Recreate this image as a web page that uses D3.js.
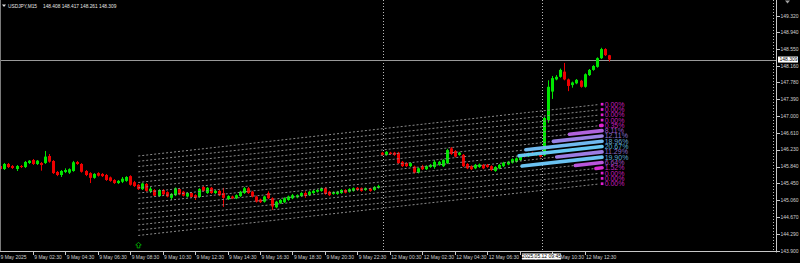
<!DOCTYPE html>
<html><head><meta charset="utf-8">
<script src="https://cdn.jsdelivr.net/npm/d3@7"></script>
<style>html,body{margin:0;padding:0;background:#000;overflow:hidden}svg{display:block}</style>
</head><body><svg id="c" width="800" height="263"></svg>
<script>
// ---------- DATA ----------
const symbol = "USDJPY,M15";
const lastOHLC = [148.408, 148.417, 148.261, 148.309];
const bidPrice = 148.309;
const priceTicks = [149.320, 148.940, 148.550, 148.160, 147.780, 147.390, 147.000, 146.610, 146.230, 145.840, 145.450, 145.060, 144.670, 144.290, 143.900];
const timeLabels = ["9 May 2025","9 May 02:30","9 May 04:30","9 May 06:30","9 May 08:30","9 May 10:30","9 May 12:30","9 May 14:30","9 May 16:30","9 May 18:30","9 May 20:30","9 May 22:30","12 May 00:30","12 May 02:30","12 May 04:30","12 May 06:30","12 May 08:30","12 May 10:30","12 May 12:30"];
const timeLabelIdx = [0,8,16,24,32,40,48,56,64,72,80,88,96,104,112,120,128,136,144];
// candles: [open, high, low, close], one per M15 bar (index = bar number)
const candles = [
[145.853,145.876,145.761,145.784],[145.784,145.923,145.761,145.900],[145.900,145.923,145.807,145.830],[145.853,145.876,145.784,145.807],[145.784,145.876,145.738,145.853],
[145.853,145.876,145.807,145.830],[145.830,145.969,145.807,145.946],[145.923,145.990,145.900,145.976],[145.992,146.015,145.877,145.900],[145.900,145.992,145.877,145.976],
[145.923,145.946,145.746,145.876],[145.923,146.200,145.900,146.070],[146.084,146.130,145.930,145.953],[145.969,145.990,145.670,145.690],[145.715,145.738,145.620,145.646],
[145.646,145.760,145.600,145.738],[145.715,145.800,145.690,145.761],[145.700,145.800,145.670,145.780],[145.738,145.970,145.720,145.940],[145.946,145.970,145.880,145.900],
[145.900,145.920,145.700,145.720],[145.738,145.760,145.620,145.646],[145.690,145.710,145.460,145.580],[145.580,145.690,145.560,145.670],[145.690,145.710,145.610,145.630],
[145.670,145.690,145.600,145.620],[145.646,145.670,145.510,145.531],[145.590,145.610,145.490,145.510],[145.530,145.550,145.440,145.460],[145.460,145.530,145.440,145.510],
[145.490,145.600,145.460,145.560],[145.510,145.620,145.490,145.600],[145.620,145.640,145.400,145.420],[145.480,145.510,145.370,145.390],[145.420,145.440,145.300,145.320],
[145.320,145.470,145.300,145.450],[145.440,145.460,145.260,145.280],[145.270,145.370,145.230,145.330],[145.300,145.320,145.150,145.170],[145.160,145.320,145.140,145.300],
[145.300,145.320,145.180,145.200],[145.250,145.270,145.130,145.150],[145.120,145.230,145.070,145.210],[145.180,145.360,145.160,145.340],[145.320,145.350,145.180,145.200],
[145.260,145.280,145.150,145.170],[145.150,145.250,145.130,145.230],[145.230,145.250,145.120,145.140],[145.180,145.200,145.070,145.120],[145.140,145.340,145.120,145.320],
[145.370,145.390,145.260,145.280],[145.230,145.370,145.210,145.350],[145.350,145.370,145.210,145.230],[145.230,145.300,145.210,145.280],[145.280,145.300,145.160,145.180],
[145.230,145.350,144.910,145.120],[145.090,145.180,145.070,145.160],[145.150,145.170,145.090,145.110],[145.110,145.200,145.090,145.180],[145.160,145.280,145.140,145.260],
[145.230,145.370,145.210,145.340],[145.340,145.370,145.210,145.230],[145.260,145.280,145.130,145.150],[145.150,145.170,145.010,145.030],[145.080,145.100,145.000,145.020],
[145.030,145.170,145.010,145.150],[145.230,145.270,145.090,145.110],[145.110,145.130,144.840,144.920],[144.900,145.050,144.880,145.030],[145.000,145.090,144.980,145.070],
[145.020,145.130,145.000,145.110],[145.070,145.170,145.050,145.150],[145.110,145.210,145.090,145.180],[145.130,145.200,145.110,145.180],[145.160,145.250,145.140,145.230],
[145.230,145.270,145.120,145.160],[145.180,145.280,145.160,145.260],[145.230,145.300,145.210,145.280],[145.260,145.320,145.240,145.300],[145.280,145.360,145.260,145.340],
[145.340,145.370,145.190,145.210],[145.260,145.280,145.160,145.180],[145.210,145.270,145.190,145.250],[145.210,145.280,145.190,145.260],[145.230,145.320,145.210,145.300],
[145.300,145.320,145.220,145.240],[145.260,145.340,145.240,145.320],[145.280,145.360,145.260,145.340],[145.350,145.370,145.280,145.300],[145.340,145.360,145.260,145.280],
[145.300,145.360,145.280,145.340],[145.330,145.350,145.260,145.280],[145.300,145.390,145.280,145.370],[145.350,145.420,145.330,145.390],
[146.160,146.180,146.090,146.110],[146.110,146.200,146.090,146.180],[146.160,146.180,146.110,146.130],[146.160,146.180,146.090,146.110],[146.160,146.180,145.900,145.920],
[145.950,145.970,145.830,145.850],[145.920,145.940,145.830,145.850],[145.850,145.940,145.830,145.920],[145.840,145.860,145.680,145.700],[145.700,145.820,145.680,145.800],
[145.850,145.880,145.760,145.780],[145.780,145.870,145.760,145.850],[145.830,145.900,145.810,145.880],[145.830,145.990,145.790,145.950],[145.880,145.970,145.860,145.950],
[145.850,146.010,145.830,145.990],[145.920,146.250,145.900,146.220],[146.260,146.290,146.110,146.130],[146.200,146.220,146.050,146.070],[146.110,146.180,146.090,146.160],
[146.110,146.130,145.830,145.850],[145.900,145.920,145.780,145.800],[145.850,145.870,145.760,145.780],[145.800,145.900,145.780,145.880],[145.830,145.910,145.810,145.890],
[145.880,145.900,145.780,145.800],[145.880,145.900,145.810,145.830],[145.850,145.870,145.740,145.760],[145.740,145.850,145.720,145.830],[145.800,145.900,145.780,145.880],
[145.850,145.950,145.830,145.930],[145.890,145.970,145.870,145.950],[145.930,146.030,145.910,146.010],[145.950,146.050,145.930,146.030],[145.990,146.090,145.970,146.070],
[146.130,146.150,146.050,146.070],[146.080,146.160,146.060,146.140],[146.160,146.180,146.090,146.110],[146.110,146.170,146.090,146.150],[146.150,146.180,146.050,146.070],
[146.100,146.990,146.080,146.960],[146.910,147.830,146.850,147.680],[147.570,147.930,147.400,147.880],[147.850,147.950,147.830,147.910],[147.910,148.100,147.890,148.070],
[148.030,148.230,147.830,147.850],[147.850,147.870,147.580,147.700],[147.720,147.800,147.660,147.780],[147.760,147.860,147.740,147.840],[147.820,147.840,147.660,147.680],
[147.680,147.990,147.660,147.970],[147.950,148.090,147.930,148.070],[148.070,148.180,148.050,148.160],[148.140,148.360,148.120,148.340],[148.340,148.580,148.320,148.550],
[148.550,148.570,148.390,148.410],[148.408,148.417,148.261,148.309]
];
// channel distribution (top level -> bottom level), percent
const profilePct = [0.00, 0.00, 0.00, 0.00, 0.35, 8.11, 12.11, 18.96, 20.67, 11.29, 19.90, 6.64, 1.52, 0.00, 0.00, 0.00];
const fanStartIdx = 34, fanEndIdx = 147.6, profileEndIdx = 148.3;
const fanTopStart = 146.084, fanSlope = 0.01046, fanStep = 0.1222;
const arrowIdx = 34, arrowPrice = 144.03;
const separatorIdx = 94.2, cursorIdx = 133.4, shiftIdx = 190.45;
const cursorLabel = "2025.05.12 09:45";

// ---------- DRAW ----------
const W = 800, H = 263, plotR = 777, plotB = 252;
const FONT = "'Liberation Sans', Arial, sans-serif";
const bull = "#00e600", bear = "#ee0000";
const x = d3.scaleLinear().domain([0, 144]).range([0.3, 584.6]);
const y = d3.scaleLinear().domain([143.9, 149.32]).range([250.7, 15.7]);

const svg = d3.select("#c");
svg.append("rect").attr("width", W).attr("height", H).attr("fill", "#000");
svg.append("defs").append("clipPath").attr("id", "plot")
  .append("rect").attr("x", 0).attr("y", 0).attr("width", plotR).attr("height", plotB);
const g = svg.append("g").attr("clip-path", "url(#plot)");

// vertical dotted lines
g.selectAll(".vsep").data([separatorIdx, cursorIdx, shiftIdx]).join("line")
  .attr("x1", d => Math.round(x(d)) + 0.5).attr("x2", d => Math.round(x(d)) + 0.5)
  .attr("y1", 0).attr("y2", plotB)
  .attr("stroke", "#b8b8b8").attr("stroke-width", 1).attr("stroke-dasharray", "1,2");

// bid line
g.append("line").attr("x1", 0).attr("x2", plotR)
  .attr("y1", Math.round(y(bidPrice)) + 0.5).attr("y2", Math.round(y(bidPrice)) + 0.5)
  .attr("stroke", "#9a9a9a").attr("stroke-width", 1);

// candles
const cd = candles.map((c, k) => ({k, o: c[0], h: c[1], l: c[2], c: c[3]}));
const cg = g.append("g");
cg.selectAll(".wick").data(cd).join("line")
  .attr("x1", d => Math.round(x(d.k)) + 0.5).attr("x2", d => Math.round(x(d.k)) + 0.5)
  .attr("y1", d => y(d.h)).attr("y2", d => y(d.l))
  .attr("stroke", d => d.c >= d.o ? bull : bear).attr("stroke-width", 1);
cg.selectAll(".body").data(cd).join("rect")
  .attr("x", d => Math.round(x(d.k)) - 1).attr("width", 3)
  .attr("y", d => y(Math.max(d.o, d.c)))
  .attr("height", d => Math.max(1, y(Math.min(d.o, d.c)) - y(Math.max(d.o, d.c))))
  .attr("fill", d => d.c >= d.o ? bull : bear);

// channel fan lines
const levelPrice = (k, i) => fanTopStart + (k - fanStartIdx) * fanSlope - i * fanStep;
const levels = profilePct.map((p, i) => ({i, p}));
g.selectAll(".fan").data(levels).join("line")
  .attr("x1", x(fanStartIdx)).attr("y1", d => y(levelPrice(fanStartIdx, d.i)))
  .attr("x2", x(fanEndIdx)).attr("y2", d => y(levelPrice(fanEndIdx, d.i)))
  .attr("stroke", "#8c8c8c").attr("stroke-width", 1).attr("stroke-dasharray", "2,2");

// distribution bars
const maxP = d3.max(profilePct);
const barLen = d3.scaleLinear().domain([0, maxP]).range([0, 83]);
const col = d3.scaleLinear().domain([0, maxP]).range(["#e020d0", "#66c8f2"]).interpolate(d3.interpolateRgb);
const xe = x(profileEndIdx);
g.selectAll(".pbar").data(levels.filter(d => d.p > 0)).join("line")
  .attr("x1", d => xe - barLen(d.p)).attr("y1", d => y(levelPrice(x.invert(xe - barLen(d.p)), d.i)))
  .attr("x2", xe).attr("y2", d => y(levelPrice(profileEndIdx, d.i)))
  .attr("stroke", d => col(d.p)).attr("stroke-width", 3.6).attr("stroke-linecap", "round");
g.selectAll(".pdot").data(levels.filter(d => d.p === 0)).join("rect")
  .attr("x", xe - 1.3).attr("y", d => y(levelPrice(profileEndIdx, d.i)) - 1.3)
  .attr("width", 2.7).attr("height", 2.7).attr("fill", d => col(d.p));
g.selectAll(".plab").data(levels).join("text")
  .attr("x", xe + 2.6).attr("y", d => y(levelPrice(profileEndIdx, d.i)))
  .attr("dy", "0.36em").attr("font-family", FONT).attr("font-size", 7)
  .attr("fill", d => d3.color(col(d.p)).darker(0.35))
  .text(d => d.p.toFixed(2) + "%");

// arrow marker
g.append("path")
  .attr("transform", `translate(${Math.round(x(arrowIdx)) + 0.5},${y(arrowPrice)})`)
  .attr("d", "M0,-2.8L2.8,0L1.3,0L1.3,2.8L-1.3,2.8L-1.3,0L-2.8,0Z")
  .attr("fill", "none").attr("stroke", "#00c000").attr("stroke-width", 0.8);

// frame
svg.append("line").attr("x1", 0.5).attr("x2", 0.5).attr("y1", 0).attr("y2", plotB).attr("stroke", "#7a7a7a");
svg.append("line").attr("x1", plotR - 0.5).attr("x2", plotR - 0.5).attr("y1", 0).attr("y2", plotB + 0.5).attr("stroke", "#c8c8c8");
svg.append("line").attr("x1", 0).attr("x2", plotR).attr("y1", plotB - 0.5).attr("y2", plotB - 0.5).attr("stroke", "#c8c8c8");

// price axis
const pa = svg.append("g");
pa.selectAll("line").data(priceTicks).join("line")
  .attr("x1", plotR).attr("x2", plotR + 3)
  .attr("y1", d => Math.round(y(d)) + 0.5).attr("y2", d => Math.round(y(d)) + 0.5)
  .attr("stroke", "#c8c8c8");
pa.selectAll("text").data(priceTicks).join("text")
  .attr("x", plotR + 3.5).attr("y", d => y(d)).attr("dy", "0.36em")
  .attr("font-family", FONT).attr("font-size", 5).attr("fill", "#d0d0d0")
  .text(d => d.toFixed(3));
// bid box
pa.append("rect").attr("x", plotR + 1).attr("y", y(bidPrice) - 3).attr("width", 20).attr("height", 6)
  .attr("fill", "#ffffff");
pa.append("text").attr("x", plotR + 2.5).attr("y", y(bidPrice)).attr("dy", "0.36em")
  .attr("font-family", FONT).attr("font-size", 5).attr("fill", "#000").text(bidPrice.toFixed(3));

// time axis
const ta = svg.append("g");
const tl = timeLabels.map((t, i) => ({t, k: timeLabelIdx[i]}));
ta.selectAll("line").data(tl.filter(d => d.k > 0)).join("line")
  .attr("x1", d => Math.round(x(d.k)) + 0.5).attr("x2", d => Math.round(x(d.k)) + 0.5)
  .attr("y1", plotB).attr("y2", plotB + 3).attr("stroke", "#c8c8c8");
ta.selectAll("text").data(tl).join("text")
  .attr("x", d => d.k > 0 ? x(d.k) + 1.5 : 0.5).attr("y", 258.6)
  .attr("font-family", FONT).attr("font-size", 5).attr("fill", "#d0d0d0")
  .text(d => d.t);
// cursor label box
const cx0 = x(cursorIdx);
ta.append("rect").attr("x", cx0 - 19.5).attr("y", 253.5).attr("width", 39).attr("height", 6).attr("fill", "#ffffff");
ta.append("text").attr("x", cx0).attr("y", 258.4).attr("text-anchor", "middle")
  .attr("font-family", FONT).attr("font-size", 5).attr("fill", "#000").text(cursorLabel);

// header
svg.append("path").attr("d", "M2,4.5L6,4.5L4,7Z").attr("fill", "#e0e0e0");
svg.append("text").attr("x", 8).attr("y", 7.6).attr("font-family", FONT).attr("font-size", 4.8)
  .attr("fill", "#e6e6e6").text(symbol);
svg.append("text").attr("x", 43).attr("y", 7.6).attr("font-family", FONT).attr("font-size", 4.8)
  .attr("fill", "#e6e6e6").text(lastOHLC.map(v => v.toFixed(3)).join(" "));
// chart shift marker
svg.append("path").attr("d", "M785,0.5L790,0.5L787.5,3.5Z").attr("fill", "#a0a0a0");
</script></body></html>
